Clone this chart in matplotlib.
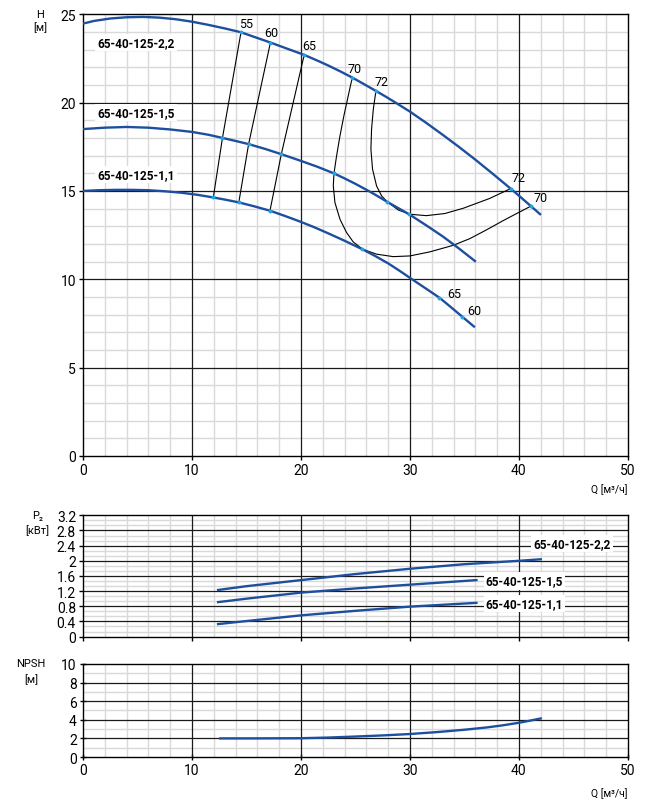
import numpy as np
import matplotlib.pyplot as plt
from matplotlib.ticker import MultipleLocator, FormatStrFormatter

plt.rcParams['font.family'] = ['Roboto', 'DejaVu Sans']

BLUE = '#1d4f9e'
DOT = '#1ea5e8'

# H(Q) curves
q22 = [0, 1, 2.5, 4, 5.5, 7, 8.5, 10, 11.5, 13, 14.5, 15.8, 17.2, 18.7, 20.3, 21.5, 22.5, 23.6, 24.7,
       25.8, 26.88, 27.8, 28.78, 30, 31.5, 33, 34.5, 36, 37.5, 39.24, 40, 41.1, 42.02]
h22 = [24.47, 24.62, 24.76, 24.83, 24.85, 24.81, 24.72, 24.58, 24.4, 24.2, 23.98, 23.7, 23.4, 23.06, 22.7,
       22.38, 22.1, 21.77, 21.42, 21.04, 20.66, 20.33, 19.96, 19.49, 18.85, 18.18, 17.49, 16.77, 16.02,
       15.13, 14.73, 14.14, 13.64]
q15 = [0, 2, 4, 6, 8, 10, 11.5, 12.8, 14, 15.2, 16.7, 18.2, 20, 21.5, 23.0, 24, 25, 26.5, 27.92, 29.95,
       31.5, 33, 34.5, 36.05]
h15 = [18.5, 18.58, 18.62, 18.58, 18.48, 18.34, 18.18, 18.0, 17.83, 17.65, 17.38, 17.08, 16.7, 16.37,
       16.0, 15.71, 15.4, 14.9, 14.38, 13.67, 13.05, 12.43, 11.74, 10.99]
q11 = [0, 1.5, 3, 4.5, 6, 7.5, 9, 10.5, 11.96, 13.1, 14.3, 15.7, 17.16, 18.5, 19.9, 21.2, 22.5, 24, 25.63,
       26.8, 28, 29, 30, 31.4, 32.7, 33.8, 34.8, 35.96]
h11 = [15.0, 15.04, 15.06, 15.06, 15.04, 14.98, 14.9, 14.78, 14.63, 14.5, 14.35, 14.13, 13.88, 13.59,
       13.27, 12.95, 12.6, 12.18, 11.7, 11.32, 10.9, 10.5, 10.08, 9.5, 8.96, 8.4, 7.88, 7.28]

# efficiency iso-lines
eta55_q = [14.5, 12.8, 11.96]
eta55_h = [23.98, 18.0, 14.63]
eta60_q = [17.2, 15.2, 14.3]
eta60_h = [23.4, 17.65, 14.35]
eta65_q = [20.3, 18.2, 17.16]
eta65_h = [22.7, 17.08, 13.88]
eta70_q = [24.71, 24.34, 23.94, 23.58, 23.27, 23.03, 22.97, 23.12, 23.58, 24.19, 24.8, 25.66, 26.94,
           28.47, 30.0, 31.83, 33.97, 35.5, 37.04, 38.5, 39.7, 41.1]
eta70_h = [21.42, 20.38, 19.25, 18.11, 16.98, 15.98, 15.28, 14.34, 13.4, 12.64, 12.11, 11.7, 11.42,
           11.28, 11.32, 11.55, 11.92, 12.3, 12.8, 13.3, 13.69, 14.14]
eta72_q = [26.88, 26.64, 26.48, 26.42, 26.57, 26.94, 27.4, 27.92, 28.93, 30.0, 31.5, 33.2, 34.9, 37.3, 39.24]
eta72_h = [20.66, 19.62, 18.49, 17.36, 16.23, 15.28, 14.72, 14.38, 13.92, 13.68, 13.6, 13.72, 14.02,
           14.57, 15.13]

dots_q = [14.5, 17.2, 20.3, 24.7, 26.88, 39.24, 41.1,
          12.8, 15.2, 18.2, 23.0, 27.92, 29.95,
          11.96, 14.3, 17.16, 25.63, 32.7, 34.8]
dots_h = [23.98, 23.4, 22.7, 21.42, 20.66, 15.13, 14.14,
          18.0, 17.65, 17.08, 16.0, 14.38, 13.67,
          14.63, 14.35, 13.88, 11.7, 8.96, 7.88]

eta_labels = ['55', '60', '65', '70', '72', '72', '70', '65', '60']
eta_lab_q = [15.0, 17.3, 20.8, 24.95, 27.4, 39.95, 41.95, 34.05, 35.95]
eta_lab_h = [24.5, 23.95, 23.25, 21.95, 21.2, 15.75, 14.6, 9.2, 8.25]

models = ['65-40-125-2,2', '65-40-125-1,5', '65-40-125-1,1']
model_lab_h = [23.42, 19.44, 15.91]

# P2(Q)
p_q22 = [12.4, 15, 20, 25, 30, 35, 40, 42]
p_22 = [1.23, 1.33, 1.49, 1.65, 1.79, 1.91, 2.0, 2.04]
p_q15 = [12.4, 15, 20, 25, 30, 36.1]
p_15 = [0.91, 1.0, 1.16, 1.27, 1.37, 1.49]
p_q11 = [12.4, 15, 20, 25, 30, 36.1]
p_11 = [0.33, 0.41, 0.56, 0.68, 0.79, 0.89]
p_lab_q = [41.3, 36.95, 36.95]
p_lab_v = [2.45, 1.47, 0.88]

# NPSH(Q)
n_q = [12.6, 15, 20, 22.5, 25, 27.5, 30, 32.5, 35, 37, 38.5, 40, 41, 42]
n_v = [2.0, 2.0, 2.02, 2.09, 2.2, 2.32, 2.47, 2.68, 2.93, 3.17, 3.4, 3.68, 3.9, 4.14]


def style(ax, ymax, ymaj, ymin):
    ax.set_xlim(0, 50)
    ax.set_ylim(0, ymax)
    ax.xaxis.set_major_locator(MultipleLocator(10))
    ax.xaxis.set_minor_locator(MultipleLocator(2))
    ax.yaxis.set_major_locator(MultipleLocator(ymaj))
    ax.yaxis.set_minor_locator(MultipleLocator(ymin))
    ax.grid(which='minor', color='#d9d9d9', lw=1.0)
    ax.set_axisbelow(True)
    for v in ax.get_xticks():
        if 0 < v < 50:
            ax.axvline(v, color='#1a1a1a', lw=0.9, zorder=1)
    for v in ax.get_yticks():
        if 0 < v < ymax:
            ax.axhline(v, color='#1a1a1a', lw=0.9, zorder=1)
    for s in ax.spines.values():
        s.set_color('black')
        s.set_linewidth(1.0)
    ax.tick_params(which='minor', length=0)
    ax.tick_params(which='major', length=3, width=1, labelsize=10, pad=2)


fig = plt.figure(figsize=(6.48, 8.03), dpi=100)
ax1 = fig.add_axes([0.128, 0.431, 0.841, 0.550])
ax2 = fig.add_axes([0.128, 0.206, 0.841, 0.151])
ax3 = fig.add_axes([0.128, 0.056, 0.841, 0.116])

style(ax1, 25, 5, 1)
for q, h in [(q22, h22), (q15, h15), (q11, h11)]:
    ax1.plot(q, h, color=BLUE, lw=1.7, zorder=3, solid_capstyle='butt')
for q, h in [(eta55_q, eta55_h), (eta60_q, eta60_h), (eta65_q, eta65_h),
             (eta70_q, eta70_h), (eta72_q, eta72_h)]:
    ax1.plot(q, h, color='black', lw=0.8, zorder=2)
ax1.scatter(dots_q, dots_h, s=8, color=DOT, zorder=4, linewidths=0)
for t, q, h in zip(eta_labels, eta_lab_q, eta_lab_h):
    ax1.text(q, h, t, fontsize=9, ha='center', va='center', zorder=5)
for t, h in zip(models, model_lab_h):
    ax1.text(1.3, h, t, fontsize=8.5, fontweight='bold', ha='left', va='center', zorder=5,
             bbox=dict(facecolor='white', edgecolor='none', pad=1.5))

style(ax2, 3.2, 0.4, 0.4 / 3)
ax2.yaxis.set_major_formatter(FormatStrFormatter('%g'))
ax2.tick_params(labelbottom=False, labelsize=10)
ax2.plot(p_q22, p_22, color=BLUE, lw=1.7)
ax2.plot(p_q15, p_15, color=BLUE, lw=1.7)
ax2.plot(p_q11, p_11, color=BLUE, lw=1.7)
for t, q, v in zip(models, p_lab_q, p_lab_v):
    ax2.text(q, v, t, fontsize=8.5, fontweight='bold', ha='left', va='center', zorder=5,
             bbox=dict(facecolor='white', edgecolor='none', pad=1.5))

style(ax3, 10, 2, 1)
ax3.tick_params(which='major', direction='inout', length=5)
ax3.plot(n_q, n_v, color=BLUE, lw=1.7)

fig.text(0.062, 0.981, 'H', fontsize=8, ha='center', va='center')
fig.text(0.062, 0.965, '[м]', fontsize=8, ha='center', va='center')
fig.text(0.969, 0.390, 'Q [м³/ч]', fontsize=7.5, ha='right', va='center')
fig.text(0.058, 0.357, 'P₂', fontsize=8, ha='center', va='center')
fig.text(0.058, 0.339, '[кВт]', fontsize=8, ha='center', va='center')
fig.text(0.048, 0.173, 'NPSH', fontsize=8, ha='center', va='center')
fig.text(0.048, 0.153, '[м]', fontsize=8, ha='center', va='center')
fig.text(0.969, 0.012, 'Q [м³/ч]', fontsize=7.5, ha='right', va='center')

fig.savefig('out.png', dpi=100)
